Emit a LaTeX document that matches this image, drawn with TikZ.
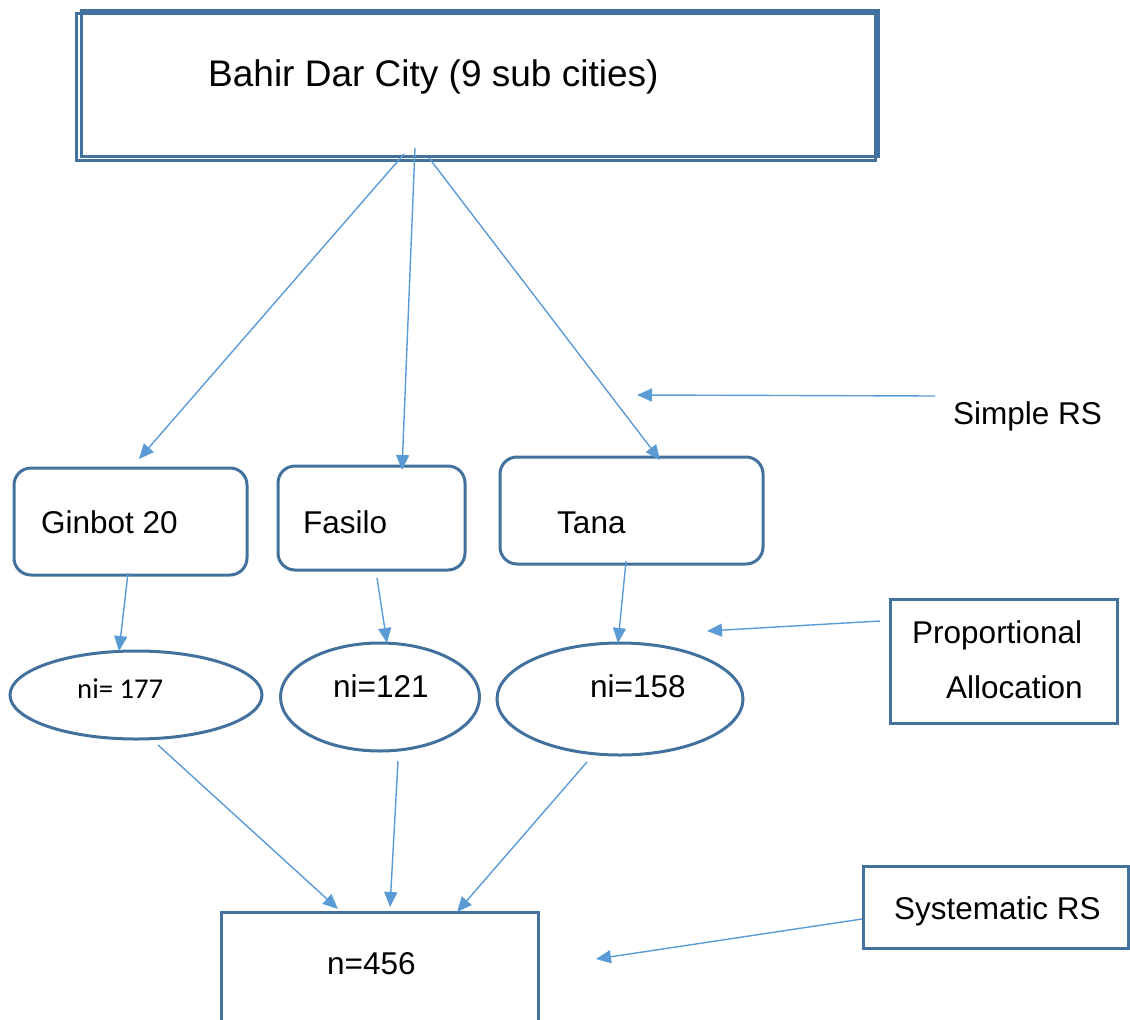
\documentclass[tikz,border=0pt]{standalone}
\usepackage{fontspec}
\setmainfont{Liberation Sans}
\newfontfamily\calib{Carlito}
\usetikzlibrary{arrows.meta,shapes.geometric}
\definecolor{boxc}{HTML}{41719C}
\definecolor{arrc}{HTML}{5B9BD5}
\begin{document}
\begin{tikzpicture}[x=1pt,y=-1pt,
  sbox/.style={draw=boxc, line width=3pt, rectangle, inner sep=0pt},
  rbox/.style={sbox, rounded corners=17pt},
  ell/.style={draw=boxc, line width=3pt, ellipse, inner sep=0pt},
  txt/.style={anchor=base west, inner sep=0pt, font=\fontsize{31.5}{36}\selectfont},
  arr/.style={draw=arrc, line width=1.4pt, -{Triangle[length=15pt,width=13pt]}}]
\useasboundingbox (0,0) rectangle (1130,1020);
\clip (0,0) rectangle (1130,1020);
% top double box
\node[sbox, minimum width=799pt, minimum height=147pt] (topA) at (475.5,86.5) {};
\node[sbox, minimum width=797pt, minimum height=146pt] (topB) at (479.5,83) {};
\node[txt, font=\fontsize{37}{40}\selectfont] (ttop) at (208,86) {Bahir Dar City (9 sub cities)};
% sub city boxes
\node[rbox, minimum width=233pt, minimum height=107pt] (gin) at (130.5,521.5) {};
\node[rbox, minimum width=187pt, minimum height=104pt] (fas) at (371.5,518) {};
\node[rbox, minimum width=263pt, minimum height=107pt] (tana) at (631.5,510.5) {};
\node[txt] (tgin) at (41,533) {Ginbot 20};
\node[txt] (tfas) at (303,533) {Fasilo};
\node[txt] (ttana) at (557,533) {Tana};
% ellipses
\node[ell, minimum width=252pt, minimum height=88pt] (e1) at (136,695) {};
\node[ell, minimum width=199pt, minimum height=108pt] (e2) at (380,697) {};
\node[ell, minimum width=246pt, minimum height=112pt] (e3) at (620,699) {};
\node[txt, font=\calib\fontsize{28.7}{32}\selectfont] (te1) at (77,698) {ni= 177};
\node[txt] (te2) at (333,697) {ni=121};
\node[txt] (te3) at (590,697) {ni=158};
% right side labels
\node[txt] (tsimple) at (953,424) {Simple RS};
\node[sbox, minimum width=227pt, minimum height=124pt] (prop) at (1003.5,661) {};
\node[txt] (tprop1) at (912,643) {Proportional};
\node[txt] (tprop2) at (946,698) {Allocation};
\node[sbox, minimum width=265pt, minimum height=82pt] (sys) at (995.5,907) {};
\node[txt] (tsys) at (894,919) {Systematic RS};
% final box
\node[sbox, minimum width=317pt, minimum height=116pt] (nbox) at (379.5,970) {};
\node[txt] (tn) at (327,974) {n=456};
% arrow end points
\coordinate (s1) at (404,154); \coordinate (t1) at (139,459);
\coordinate (s2) at (415,148); \coordinate (t2) at (402,470);
\coordinate (s3) at (429,158); \coordinate (t3) at (660,460);
\coordinate (ss) at (935,396); \coordinate (ts) at (637,395);
\coordinate (sg) at (128,573); \coordinate (tg) at (119,651);
\coordinate (sf) at (377,578); \coordinate (tf) at (387,643);
\coordinate (st) at (626,561); \coordinate (tt) at (618,643);
\coordinate (sp) at (880,621); \coordinate (tp) at (707,631);
\coordinate (sn1) at (158,745); \coordinate (tn1) at (338,909);
\coordinate (sn2) at (398,761); \coordinate (tn2) at (390,907);
\coordinate (sn3) at (587,762); \coordinate (tn3) at (457,912);
\coordinate (sy) at (862,919); \coordinate (ty) at (596,959);
\draw[arr] (s1) -- (t1);
\draw[arr] (s2) -- (t2);
\draw[arr] (s3) -- (t3);
\draw[arr] (ss) -- (ts);
\draw[arr] (sg) -- (tg);
\draw[arr] (sf) -- (tf);
\draw[arr] (st) -- (tt);
\draw[arr] (sp) -- (tp);
\draw[arr] (sn1) -- (tn1);
\draw[arr] (sn2) -- (tn2);
\draw[arr] (sn3) -- (tn3);
\draw[arr] (sy) -- (ty);
\end{tikzpicture}
\end{document}
